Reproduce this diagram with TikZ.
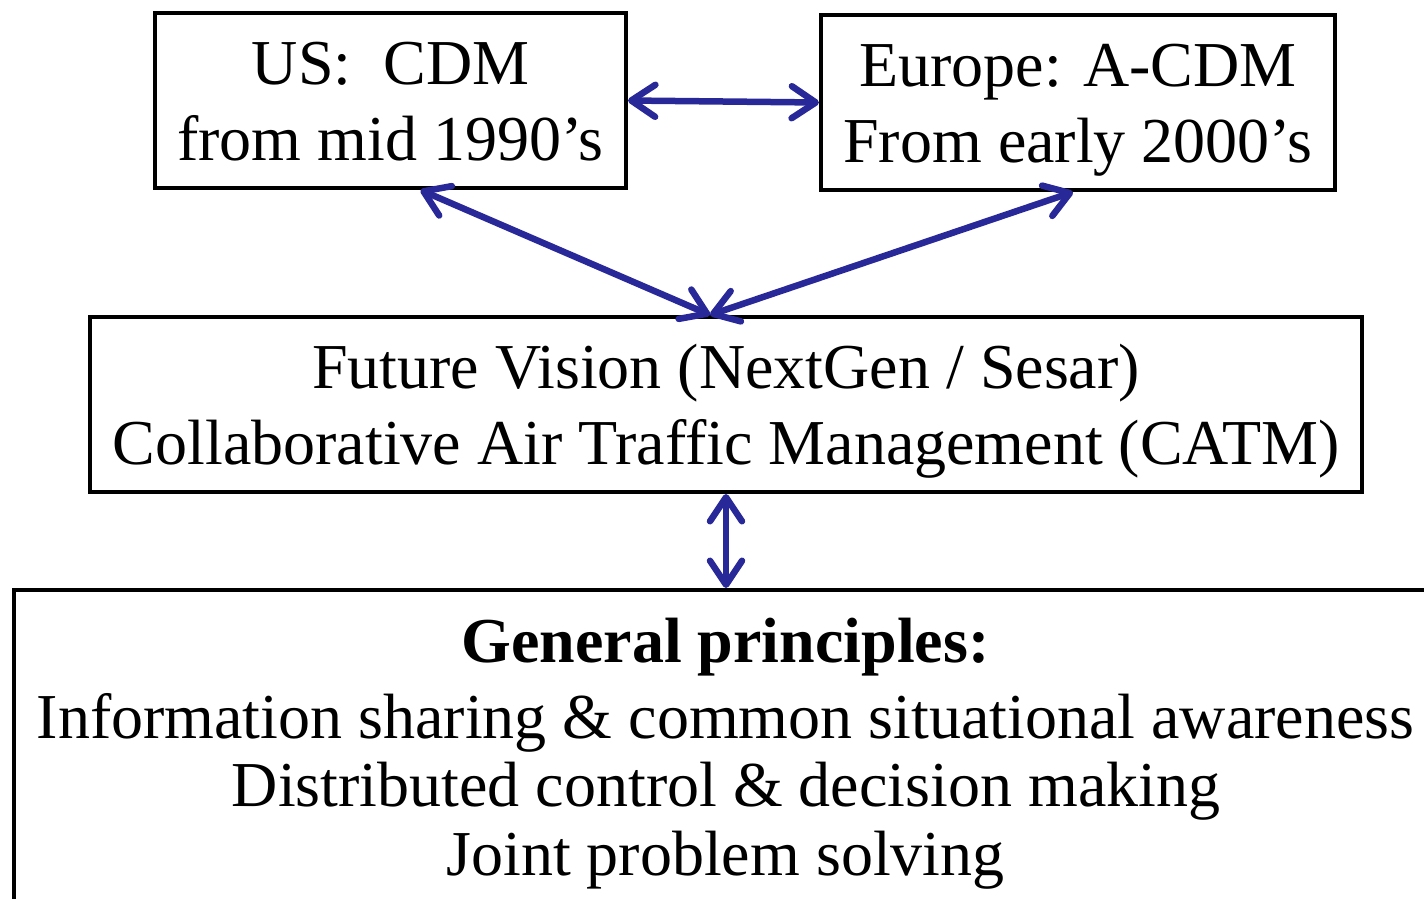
\documentclass[tikz,border=0pt]{standalone}
\usepackage{fontspec}
\setmainfont{Liberation Serif}
\newfontfamily\tms{Liberation Serif}
\usetikzlibrary{arrows.meta}
\definecolor{arrowblue}{RGB}{40,40,152}
\newcommand\myTopStrut{\rule{0pt}{58pt}}
\newcommand\myBotStrut{\rule[-14pt]{0pt}{14pt}}
\tikzset{
  box/.style={draw=black, line width=4pt, rectangle, inner sep=0pt, align=center,
    font=\tms\fontsize{64}{76}\selectfont},
  txt/.style={inner sep=0pt, anchor=base, font=\tms\fontsize{64}{76}\selectfont},
  link/.style={draw=arrowblue, line width=6.5pt, line cap=round,
    {Straight Barb[length=24pt,width=32pt,round]}-{Straight Barb[length=24pt,width=32pt,round]}}
}
\begin{document}
\begin{tikzpicture}[x=1pt,y=-1pt]
\useasboundingbox (0,0) rectangle (1424,898);
\clip (0,0) rectangle (1424,898);
\node[box, minimum width=471pt, minimum height=175pt] (us) at (390.5,100.5)
  {\myTopStrut US:~ CDM\\from mid 1990’s\myBotStrut};
\node[box, minimum width=514pt, minimum height=175pt] (eu) at (1078,102.5)
  {\myTopStrut Europe: A-CDM\\From early 2000’s\myBotStrut};
\node[box, minimum width=1272pt, minimum height=175pt] (fut) at (726,404.5)
  {\myTopStrut Future Vision (NextGen / Sesar)\\Collaborative Air Traffic Management (CATM)\myBotStrut};
\node[draw=black, line width=4pt, rectangle, inner sep=0pt, anchor=north west,
  minimum width=1460pt, minimum height=400pt] (gen) at (12,588) {};
\node[txt, font=\tms\fontsize{64}{76}\selectfont\bfseries] (g1) at (725.5,662) {General principles:};
\node[txt] (g2) at (725.5,738) {Information sharing \& common situational awareness};
\node[txt] (g3) at (726,806) {Distributed control \& decision making};
\node[txt] (g4) at (725.5,875) {Joint problem solving};
\draw[link] (us.east) -- (eu.west);
\draw[link] ([xshift=30pt]us.south) -- ([xshift=-16pt]fut.north);
\draw[link] ([xshift=-5pt]eu.south) -- ([xshift=-16pt]fut.north);
\draw[link] (fut.south) -- (fut.south |- gen.north);
\end{tikzpicture}
\end{document}
